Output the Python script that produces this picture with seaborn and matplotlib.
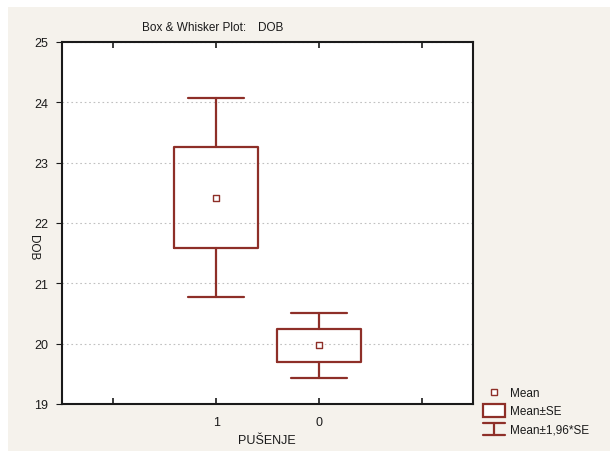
import matplotlib
matplotlib.use("Agg")
import matplotlib.pyplot as plt
import seaborn as sns
import numpy as np
import pandas as pd
from matplotlib.legend_handler import HandlerBase
from matplotlib.lines import Line2D
from matplotlib.patches import Rectangle

# ---- data ----
categories = ["1", "0"]
means = [22.42, 19.97]
se = [0.84, 0.275]
tick_labels = ["", "1", "0", ""]

BG = "#f5f2ec"
RED = "#8e2f28"

sns.set_theme(style="white")
plt.rcParams["font.family"] = ["Liberation Sans", "DejaVu Sans"]

fig = plt.figure(figsize=(6.1, 4.52), dpi=100, facecolor=BG)
# thin white strips along the top and left edges
fig.patches.append(Rectangle((0, 1 - 8 / 452), 1, 8 / 452, transform=fig.transFigure,
                             facecolor="white", edgecolor="none", zorder=-10))
fig.patches.append(Rectangle((0, 0), 8 / 610, 1, transform=fig.transFigure,
                             facecolor="white", edgecolor="none", zorder=-10))
ax = fig.add_axes([62 / 610, 1 - 405 / 452, (473 - 62) / 610, (405 - 43) / 452])
ax.set_facecolor("white")

df = pd.DataFrame({"PUSENJE": categories, "mean": means, "se": se})
df["pos"] = np.arange(len(df))

stats = []
for _, r in df.iterrows():
    stats.append(dict(med=r["mean"], q1=r["mean"] - r["se"], q3=r["mean"] + r["se"],
                      whislo=r["mean"] - 1.96 * r["se"], whishi=r["mean"] + 1.96 * r["se"],
                      fliers=[], label=r["PUSENJE"]))

lp = dict(color=RED, linewidth=1.6)
ax.bxp(stats, positions=df["pos"].tolist(), widths=0.82, capwidths=0.55,
       boxprops=lp, whiskerprops=lp, capprops=lp,
       medianprops=dict(linewidth=0), showfliers=False, manage_ticks=False)

sns.scatterplot(data=df, x="pos", y="mean", marker="s", s=24, color="white",
                edgecolor=RED, linewidth=1.0, ax=ax, zorder=5, legend=False)

ax.set_xlim(-1.5, 2.5)
ax.set_ylim(19, 25)
ax.set_xticks([-1, 0, 1, 2])
ax.set_xticklabels(tick_labels)
ax.set_yticks([19, 20, 21, 22, 23, 24, 25])
ax.set_xlabel("")
ax.set_ylabel("")
ax.yaxis.grid(True, linestyle=(0, (1.5, 2.5)), color="#c0c0c0", linewidth=0.8)
ax.set_axisbelow(True)
for s in ax.spines.values():
    s.set_color("#1a1a1a")
    s.set_linewidth(1.5)
    s.set_visible(True)
ax.tick_params(axis="x", direction="in", length=4, width=1.2, top=True, bottom=True,
               labelsize=9, pad=9, colors="#1a1a1a")
ax.tick_params(axis="y", direction="out", length=4, width=0.8, left=True, labelsize=9,
               pad=6, colors="#1a1a1a")
ax.tick_params(axis="y", which="both", right=False)
for lab in ax.get_xticklabels() + ax.get_yticklabels():
    lab.set_color("#1a1a1a")

# title, axis labels
fig.text(142 / 610, 1 - 28 / 452, "Box & Whisker Plot:", fontsize=8.5, va="center", ha="left", color="#1a1a1a")
fig.text(258 / 610, 1 - 28 / 452, "DOB", fontsize=8.5, va="center", ha="left", color="#1a1a1a")
fig.text(33 / 610, 1 - 248 / 452, "DOB", fontsize=8.5, va="center", ha="center", rotation=270, color="#1a1a1a")
fig.text(267 / 610, 1 - 441 / 452, "PUŠENJE", fontsize=9, va="center", ha="center", color="#1a1a1a")


class MeanHandler(HandlerBase):
    def create_artists(self, legend, orig, xd, yd, w, h, fs, trans):
        l = Line2D([w / 2 - xd], [h / 2 - yd], marker="s", markersize=5, markerfacecolor="white",
                   markeredgecolor=RED, markeredgewidth=1.0, linestyle="none", transform=trans)
        return [l]


class BoxHandler(HandlerBase):
    def create_artists(self, legend, orig, xd, yd, w, h, fs, trans):
        r = Rectangle((-xd, -yd - 1), w, h + 2, facecolor="white", edgecolor=RED,
                      linewidth=1.6, transform=trans)
        return [r]


class WhiskHandler(HandlerBase):
    def create_artists(self, legend, orig, xd, yd, w, h, fs, trans):
        x0, x1 = -xd, w - xd
        xm = (x0 + x1) / 2
        y0, y1 = -yd - 1, h - yd + 1
        kw = dict(color=RED, linewidth=1.6, transform=trans)
        return [Line2D([x0, x1], [y1, y1], **kw), Line2D([xm, xm], [y0, y1], **kw),
                Line2D([x0, x1], [y0, y0], **kw)]


h1, h2, h3 = object(), object(), object()
leg = fig.legend([h1, h2, h3], ["Mean", "Mean±SE", "Mean±1,96*SE"],
                 handler_map={h1: MeanHandler(), h2: BoxHandler(), h3: WhiskHandler()},
                 loc="upper left", bbox_to_anchor=(483 / 610, 1 - 388 / 452),
                 frameon=False, fontsize=8.5, handlelength=1.9, handleheight=0.9,
                 handletextpad=0.4, labelspacing=0.55, borderpad=0, borderaxespad=0)
for t in leg.get_texts():
    t.set_color("#1a1a1a")

fig.savefig("out.png", dpi=100, facecolor=BG)
